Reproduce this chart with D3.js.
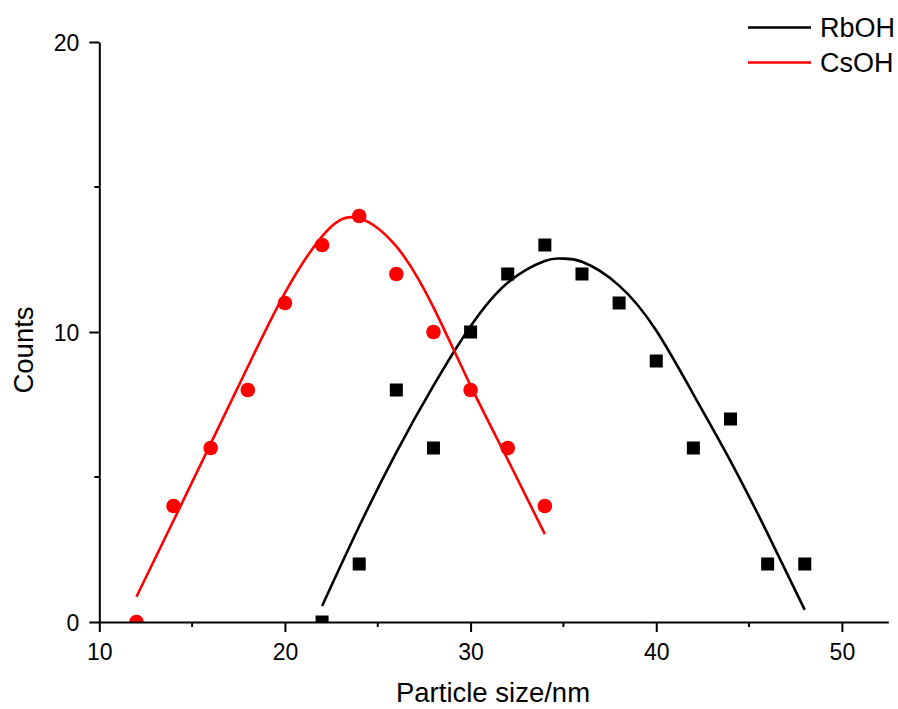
<!DOCTYPE html>
<html>
<head>
<meta charset="utf-8">
<script src="https://cdn.jsdelivr.net/npm/d3@7"></script>
<style>
  html, body { margin: 0; padding: 0; background: #fff; }
  svg { display: block; font-family: "Liberation Sans", Arial, sans-serif; }
</style>
</head>
<body>
<svg id="chart" width="898" height="709"></svg>
<script>
// ---- data ----
const rbX = [22, 24, 26, 28, 30, 32, 34, 36, 38, 40, 42, 44, 46, 48];
const rbCounts = [0, 2, 8, 6, 10, 12, 13, 12, 11, 9, 6, 7, 2, 2];
const csX = [12, 14, 16, 18, 20, 22, 24, 26, 28, 30, 32, 34];
const csCounts = [0, 4, 6, 8, 11, 13, 14, 12, 10, 8, 6, 4];
// fitted curves
const rbFitX = [22, 24, 26, 28, 30, 32, 34, 34.9, 36, 38, 40, 42, 44, 46, 48];
const rbFitY = [0.55, 3.3, 5.85, 8.15, 10.2, 11.7, 12.45, 12.53, 12.42, 11.6, 10.05, 7.85, 5.55, 3.05, 0.42];
const csFitX = [12, 14, 16, 18, 20, 22, 23.8, 26, 28, 30, 32, 34];
const csFitY = [0.87, 3.5, 6.15, 8.8, 11.35, 13.3, 13.95, 12.95, 10.85, 8.15, 5.6, 3.03];
const xTicks = [10, 20, 30, 40, 50];
const xMinor = [15, 25, 35, 45];
const yTicks = [0, 10, 20];
const yMinor = [5, 15];
const seriesNames = ["RbOH", "CsOH"];
const seriesColors = ["#000000", "#ff0000"];

const svg = d3.select("#chart");
const x = d3.scaleLinear().domain([10, 52.5]).range([99.3, 888.3]);
const y = d3.scaleLinear().domain([0, 20]).range([622, 42]);

// clip so markers at y=0 are cut by the axis
svg.append("defs").append("clipPath").attr("id", "plotclip")
  .append("rect").attr("x", x(10)).attr("y", 0)
  .attr("width", x(52.5) - x(10)).attr("height", y(0));

const plot = svg.append("g").attr("clip-path", "url(#plotclip)");

const line = d3.line().x(d => x(d[0])).y(d => y(d[1])).curve(d3.curveNatural);

plot.append("path").datum(rbFitX.map((v, i) => [v, rbFitY[i]]))
  .attr("d", line).attr("fill", "none").attr("stroke", seriesColors[0]).attr("stroke-width", 2.6);
plot.append("path").datum(csFitX.map((v, i) => [v, csFitY[i]]))
  .attr("d", line).attr("fill", "none").attr("stroke", seriesColors[1]).attr("stroke-width", 2.6);

const sq = 13;
plot.selectAll("rect.rb").data(rbX.map((v, i) => [v, rbCounts[i]])).enter()
  .append("rect").attr("class", "rb")
  .attr("x", d => x(d[0]) - sq / 2).attr("y", d => y(d[1]) - sq / 2)
  .attr("width", sq).attr("height", sq).attr("fill", seriesColors[0]);

plot.selectAll("circle.cs").data(csX.map((v, i) => [v, csCounts[i]])).enter()
  .append("circle").attr("class", "cs")
  .attr("cx", d => x(d[0])).attr("cy", d => y(d[1])).attr("r", 7.3)
  .attr("fill", seriesColors[1]);

// ---- axes ----
const xAxis = svg.append("g").attr("transform", `translate(0,${y(0)})`)
  .call(d3.axisBottom(x).tickValues(xTicks).tickSize(10).tickSizeOuter(0).tickFormat(d3.format("d")));
xAxis.select(".domain").attr("stroke", "#000").attr("stroke-width", 2);
xAxis.selectAll(".tick line").attr("stroke", "#000").attr("stroke-width", 2);
xAxis.selectAll(".tick text").attr("y", 38).attr("dy", 0)
  .attr("font-size", 23).attr("fill", "#000").attr("font-family", "Liberation Sans, Arial, sans-serif");
xAxis.selectAll("line.minor").data(xMinor).enter().append("line").attr("class", "minor")
  .attr("x1", d => x(d)).attr("x2", d => x(d)).attr("y1", 0).attr("y2", 5)
  .attr("stroke", "#000").attr("stroke-width", 2);

const yAxis = svg.append("g").attr("transform", `translate(${x(10)},0)`)
  .call(d3.axisLeft(y).tickValues(yTicks).tickSize(10).tickSizeOuter(0).tickFormat(d3.format("d")));
yAxis.select(".domain").attr("stroke", "#000").attr("stroke-width", 2);
yAxis.selectAll(".tick line").attr("stroke", "#000").attr("stroke-width", 2);
yAxis.selectAll(".tick text").attr("x", -20).attr("dy", "0.36em")
  .attr("font-size", 23).attr("fill", "#000").attr("font-family", "Liberation Sans, Arial, sans-serif");
yAxis.selectAll("line.minor").data(yMinor).enter().append("line").attr("class", "minor")
  .attr("x1", 0).attr("x2", -5).attr("y1", d => y(d)).attr("y2", d => y(d))
  .attr("stroke", "#000").attr("stroke-width", 2);

// ---- titles ----
svg.append("text").attr("x", 493).attr("y", 702).attr("text-anchor", "middle")
  .attr("font-size", 27.5).attr("fill", "#000").text("Particle size/nm");
svg.append("text").attr("transform", "translate(33,350) rotate(-90)").attr("text-anchor", "middle")
  .attr("font-size", 27.5).attr("fill", "#000").text("Counts");

// ---- legend ----
const legend = svg.append("g");
seriesNames.forEach((name, i) => {
  const ly = 27.5 + i * 35;
  legend.append("line").attr("x1", 748).attr("x2", 811).attr("y1", ly).attr("y2", ly)
    .attr("stroke", seriesColors[i]).attr("stroke-width", 2.6);
  legend.append("text").attr("x", 820).attr("y", ly + 9.5).attr("font-size", 27)
    .attr("fill", "#000").text(name);
});
</script>
</body>
</html>
